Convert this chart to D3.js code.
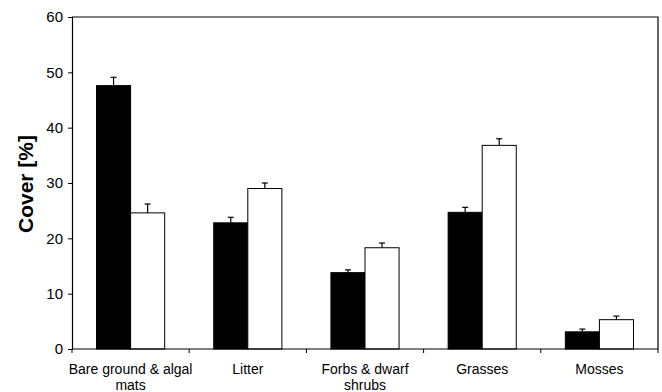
<!DOCTYPE html>
<html>
<head>
<meta charset="utf-8">
<script src="https://cdn.jsdelivr.net/npm/d3@7"></script>
<style>
  html, body { margin: 0; padding: 0; background: #fff; }
  svg { display: block; font-family: "Liberation Sans", Arial, sans-serif; }
</style>
</head>
<body>
<svg id="chart" width="662" height="392"></svg>
<script>
// Ground cover categories (two-line labels)
const categories = [
  ["Bare ground & algal", "mats"],
  ["Litter"],
  ["Forbs & dwarf", "shrubs"],
  ["Grasses"],
  ["Mosses"]
];
const seriesNames = ["A", "B"];
// Mean cover (%) per category, black and white bars
const blackValues = [47.6, 22.8, 13.8, 24.7, 3.1];
const whiteValues = [24.6, 29.0, 18.3, 36.8, 5.3];
// Standard errors (upper whiskers only)
const blackErrors = [1.5, 1.0, 0.5, 0.9, 0.5];
const whiteErrors = [1.6, 1.0, 0.85, 1.2, 0.65];
const yTicks = [0, 10, 20, 30, 40, 50, 60];

const svg = d3.select("#chart");
const plotLeft = 72, plotRight = 658, plotTop = 17, plotBottom = 349;

const x = d3.scaleBand()
  .domain(d3.range(categories.length))
  .range([plotLeft, plotRight])
  .paddingInner(0)
  .paddingOuter(0);

const inner = d3.scaleBand()
  .domain(seriesNames)
  .range([0, x.bandwidth()])
  .paddingOuter(0.72)
  .paddingInner(0);

const y = d3.scaleLinear().domain([0, 60]).range([plotBottom, plotTop]);

// Frame: top and right edges
svg.append("path")
  .attr("d", `M${plotLeft},${plotTop}H${plotRight}V${plotBottom}`)
  .attr("fill", "none")
  .attr("stroke", "#000")
  .attr("stroke-width", 1.2);

// Bars
const rows = categories.map((c, i) => [
  { key: "A", v: blackValues[i], e: blackErrors[i], fill: "#000" },
  { key: "B", v: whiteValues[i], e: whiteErrors[i], fill: "#fff" }
]);

const groups = svg.append("g").selectAll("g")
  .data(rows)
  .join("g")
  .attr("transform", (d, i) => `translate(${x(i)},0)`);

groups.selectAll("rect")
  .data(d => d)
  .join("rect")
  .attr("x", d => inner(d.key))
  .attr("y", d => y(d.v))
  .attr("width", inner.bandwidth())
  .attr("height", d => y(0) - y(d.v))
  .attr("fill", d => d.fill)
  .attr("stroke", "#000")
  .attr("stroke-width", 1);

// Error whiskers
const whisk = groups.selectAll("g.err")
  .data(d => d)
  .join("g")
  .attr("class", "err")
  .attr("stroke", "#000")
  .attr("stroke-width", 1.2);

whisk.append("line")
  .attr("x1", d => inner(d.key) + inner.bandwidth() / 2)
  .attr("x2", d => inner(d.key) + inner.bandwidth() / 2)
  .attr("y1", d => y(d.v))
  .attr("y2", d => y(d.v + d.e));

whisk.append("line")
  .attr("x1", d => inner(d.key) + inner.bandwidth() / 2 - 3)
  .attr("x2", d => inner(d.key) + inner.bandwidth() / 2 + 3)
  .attr("y1", d => y(d.v + d.e))
  .attr("y2", d => y(d.v + d.e));

// Y axis
const yAxis = svg.append("g")
  .attr("transform", `translate(${plotLeft},0)`)
  .call(d3.axisLeft(y).tickValues(yTicks).tickSize(4).tickPadding(5));
yAxis.select(".domain").attr("stroke-width", 1.2);
yAxis.selectAll("text")
  .attr("font-size", 15)
  .attr("font-family", "Liberation Sans, Arial, sans-serif")
  .attr("fill", "#000");

// X axis: ticks at category boundaries
const xBounds = d3.range(categories.length + 1).map(i => plotLeft + i * x.bandwidth());
svg.append("line")
  .attr("x1", plotLeft).attr("x2", plotRight)
  .attr("y1", plotBottom).attr("y2", plotBottom)
  .attr("stroke", "#000").attr("stroke-width", 1.2);
svg.append("g").selectAll("line")
  .data(xBounds)
  .join("line")
  .attr("x1", d => d).attr("x2", d => d)
  .attr("y1", plotBottom).attr("y2", plotBottom + 4)
  .attr("stroke", "#000");

// Category labels
svg.append("g").selectAll("text")
  .data(categories)
  .join("text")
  .attr("x", (d, i) => x(i) + x.bandwidth() / 2)
  .attr("y", 374)
  .attr("text-anchor", "middle")
  .attr("font-size", 14)
  .attr("fill", "#000")
  .each(function (d) {
    const t = d3.select(this);
    d.forEach((line, k) => {
      t.append("tspan")
        .attr("x", t.attr("x"))
        .attr("dy", k === 0 ? 0 : 16)
        .text(line);
    });
  });

// Y axis title
svg.append("text")
  .attr("transform", `translate(33,${(plotTop + plotBottom) / 2 + 1}) rotate(-90)`)
  .attr("text-anchor", "middle")
  .attr("font-size", 21)
  .attr("font-weight", "bold")
  .attr("fill", "#000")
  .text("Cover [%]");
</script>
</body>
</html>
